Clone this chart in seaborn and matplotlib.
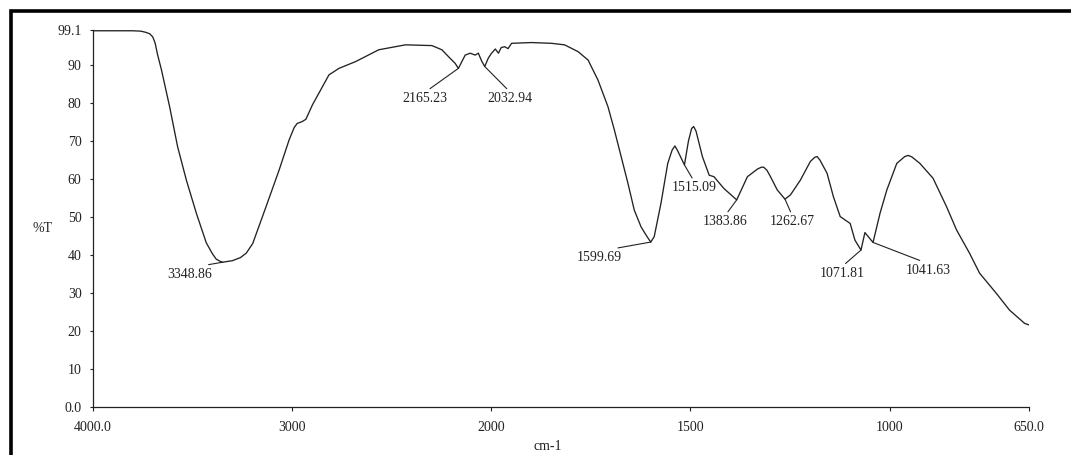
import numpy as np
import pandas as pd
import matplotlib
matplotlib.use("Agg")
import matplotlib.pyplot as plt
import seaborn as sns
from matplotlib.patches import Rectangle

# FT-IR spectrum: wavenumber (cm-1) and transmittance (%T)
wavenumber = [4000, 3800, 3760, 3735, 3715, 3700, 3688, 3676, 3656, 3615,
              3575, 3531, 3481, 3431, 3400, 3381, 3360, 3349, 3300, 3260,
              3230, 3198, 3131, 3065, 3015, 2990, 2975, 2950, 2931, 2898,
              2815, 2765, 2681, 2565, 2431, 2298, 2248, 2215, 2181, 2165.23,
              2131, 2106, 2081, 2065, 2048, 2032.94, 2015, 2000, 1990, 1982,
              1975, 1966, 1958, 1949, 1899, 1849, 1816, 1782, 1757, 1732,
              1707, 1691, 1674, 1657, 1641, 1624, 1610, 1599.69, 1591, 1574,
              1557, 1546, 1539, 1532, 1515.09, 1505, 1497, 1492, 1486, 1470,
              1453, 1441, 1416, 1383.86, 1357, 1332, 1322, 1316, 1308, 1299,
              1282, 1262.67, 1249, 1224, 1199, 1188, 1182, 1175, 1157, 1141,
              1124, 1099, 1087, 1071.81, 1062, 1041.63, 1024, 1007, 982, 962,
              953, 944, 924, 891, 857, 832, 799, 774, 732, 699,
              661, 650]
transmittance = [99.0, 99.0, 98.9, 98.6, 98.2, 97.4, 95.8, 92.8, 88.7, 79.0,
                 68.5, 59.7, 51.0, 43.2, 40.3, 38.9, 38.3, 38.1, 38.5, 39.3,
                 40.5, 43.0, 52.7, 62.4, 70.3, 73.5, 74.6, 75.1, 75.7, 79.5,
                 87.4, 89.1, 90.9, 94.0, 95.3, 95.1, 94.0, 92.2, 90.4, 89.1,
                 92.6, 93.1, 92.6, 93.1, 91.0, 89.6, 91.8, 93.0, 94.2, 93.1,
                 94.6, 94.8, 94.3, 95.7, 95.9, 95.7, 95.3, 93.5, 91.3, 86.0,
                 79.0, 72.9, 65.9, 58.9, 51.8, 47.4, 45.0, 43.4, 44.8, 53.6,
                 64.1, 67.6, 68.7, 67.4, 63.7, 70.0, 73.3, 73.8, 72.6, 65.9,
                 61.0, 60.6, 57.5, 54.5, 60.6, 62.6, 63.1, 63.1, 62.3, 60.6,
                 57.1, 54.7, 55.8, 59.7, 64.6, 65.7, 65.9, 65.0, 61.5, 55.3,
                 50.1, 48.3, 43.9, 41.3, 45.9, 43.3, 51.0, 57.1, 64.1, 65.9,
                 66.2, 65.8, 64.1, 60.2, 52.7, 46.6, 40.4, 35.2, 29.9, 25.5,
                 22.0, 21.6]

# Labelled absorption bands
peak_wavenumbers = [3348.86, 2165.23, 2032.94, 1599.69, 1515.09,
                    1383.86, 1262.67, 1071.81, 1041.63]
peak_transmittance = [38.1, 89.1, 89.6, 43.4, 63.7, 54.5, 54.7, 41.3, 43.3]

x_ticks = [4000, 3000, 2000, 1500, 1000, 650]
x_tick_labels = ["4000.0", "3000", "2000", "1500", "1000", "650.0"]
y_ticks = [0, 10, 20, 30, 40, 50, 60, 70, 80, 90, 99.1]
y_tick_labels = ["0.0", "10", "20", "30", "40", "50", "60", "70", "80", "90", "99.1"]

# top-centre of each band label, in data units
label_anchor = [(3515, 36.6), (2331, 82.9), (1953, 82.9), (1728, 41.0), (1491, 59.4),
                (1412, 50.5), (1245, 50.5), (1120, 36.9), (903, 37.7)]

sns.set_style("ticks")
plt.rcParams["font.family"] = ["Liberation Serif", "DejaVu Serif"]

INK = "#222222"
df = pd.DataFrame({"wavenumber": wavenumber, "T": transmittance})

fig = plt.figure(figsize=(10.71, 4.55), dpi=100)
ax = fig.add_axes([0.0868, 0.1055, 0.874, 0.8277])


# the x axis is compressed by a factor of two above 2000 cm-1
def fwd(x):
    x = np.asarray(x, dtype=float)
    return np.where(x >= 2000, x, 2 * x - 2000)


def inv(y):
    y = np.asarray(y, dtype=float)
    return np.where(y >= 2000, y, (y + 2000) / 2)


ax.set_xscale("function", functions=(fwd, inv))

sns.lineplot(data=df, x="wavenumber", y="T", ax=ax, color=INK, lw=0.95,
             estimator=None, sort=False)

ax.set_xlim(4000, 650)
ax.set_ylim(0, 99.1)
ax.set_xticks(x_ticks)
ax.set_xticklabels(x_tick_labels)
ax.set_yticks(y_ticks)
ax.set_yticklabels(y_tick_labels)
ax.minorticks_off()
ax.tick_params(axis="x", direction="out", length=3, width=0.8, pad=7,
               labelsize=10, colors=INK)
ax.tick_params(axis="y", direction="out", length=2.2, width=0.8, pad=6,
               labelsize=10, colors=INK)

sns.despine(ax=ax)
for side in ("left", "bottom"):
    ax.spines[side].set_linewidth(0.9)
    ax.spines[side].set_color(INK)

ax.set_xlabel("cm-1", fontsize=10, color=INK, va="center")
ax.xaxis.set_label_coords(0.486, -0.105)
ax.set_ylabel("%T", fontsize=10, color=INK, rotation=0, va="center", ha="center")
ax.yaxis.set_label_coords(-0.0534, 0.475)

for wn, t, (lx, ly) in zip(peak_wavenumbers, peak_transmittance, label_anchor):
    ax.annotate(f"{wn:.2f}", xy=(wn, t), xytext=(lx, ly), textcoords="data",
                ha="center", va="top", fontsize=10, color=INK,
                arrowprops=dict(arrowstyle="-", color=INK, lw=0.8,
                                relpos=(0.5, 1.0), shrinkA=0, shrinkB=0))

# heavy outer frame of the printout
fig.add_artist(Rectangle((0.0103, -0.05), 1.2, 0.975 + 0.05, transform=fig.transFigure,
                         fill=False, ec="black", lw=2.6, clip_on=False))

fig.savefig("out.png", dpi=100)
